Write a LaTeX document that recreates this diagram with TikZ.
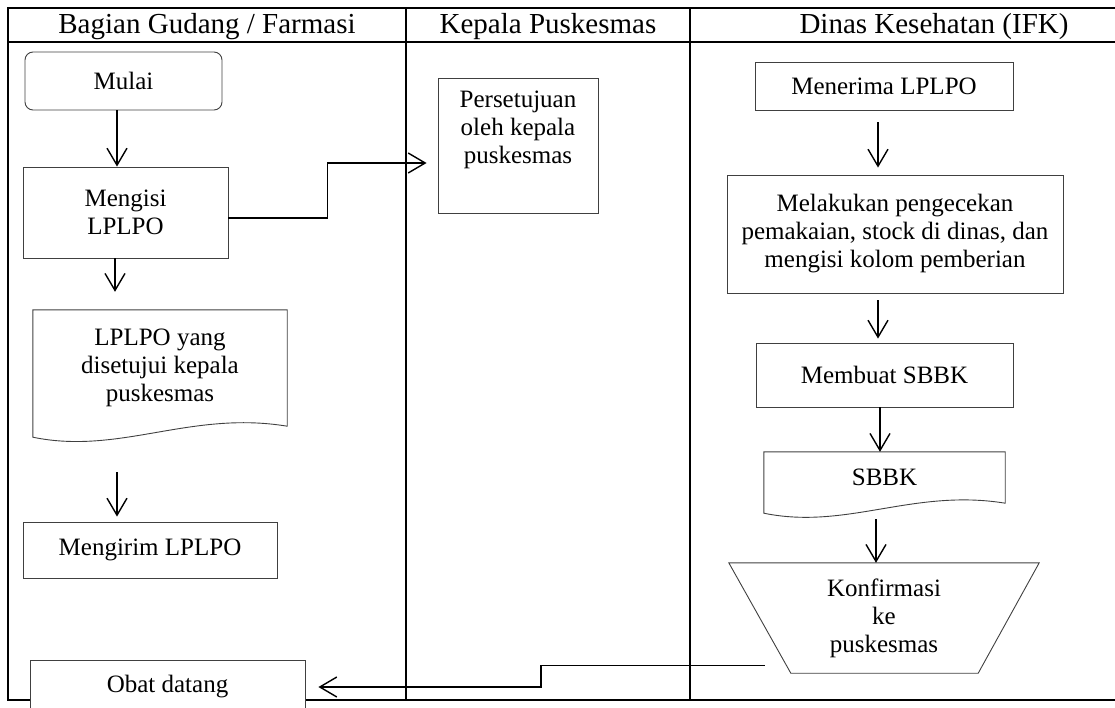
\documentclass[tikz,border=0pt]{standalone}
\usepackage{fontspec}
\setmainfont{Liberation Serif}
\usetikzlibrary{arrows.meta,calc}
\begin{document}
\begin{tikzpicture}[x=1pt,y=-1pt,
  every node/.style={font=\fontsize{25}{28}\selectfont, align=center, inner sep=0pt},
  boxline/.style={draw=black!75, line width=0.9pt},
  box/.style={boxline, rectangle},
  lane/.style={line width=2pt, black},
  conn/.style={line width=1.4pt, black, -{Straight Barb[length=17pt,width=20pt]}},
  head/.style={font=\fontsize{29}{33}\selectfont, anchor=base}
]
\useasboundingbox (0,0) rectangle (1115,708);
\clip (0,0) rectangle (1115,708);

% swimlane table
\draw[lane] (1115,8) -- (8,8) -- (8,700) -- (1115,700);
\draw[lane] (8,42.5) -- (1115,42.5);
\draw[lane] (406,8) -- (406,700);
\draw[lane] (690,8) -- (690,700);

\node[head] (h1) at (207,34) {Bagian Gudang / Farmasi};
\node[head] (h2) at (548,34) {Kepala Puskesmas};
\node[head] (h3) at (934,34) {Dinas Kesehatan (IFK)};

% Bagian Gudang / Farmasi
\node[box, rounded corners=8pt, minimum width=197, minimum height=58] (mulai) at (123.5,81) {Mulai};
\node[box, minimum width=205, minimum height=91] (isi) at (125.5,212.5) {Mengisi\\LPLPO};
\node[minimum width=254, minimum height=116] (doc) at (160,368) {LPLPO yang\\disetujui kepala\\puskesmas};
\draw[boxline] (doc.north west) -- (doc.north east) -- (doc.south east)
  .. controls ([xshift=-97,yshift=16]doc.south east) and ([xshift=87,yshift=-29]doc.south west)
  .. ([yshift=-11]doc.south west) -- cycle;
\node[box, minimum width=254, minimum height=56] (kirim) at (150,550) {Mengirim LPLPO};
\node[box, fill=white, minimum width=275, minimum height=54] (obat) at (167.5,687) {Obat datang};

% Kepala Puskesmas
\node[box, minimum width=160, minimum height=135] (setuju) at (518,145.5) {};
\node (setujutxt) at ([yshift=15.5]setuju.center) {Persetujuan\\oleh kepala\\puskesmas};

% Dinas Kesehatan (IFK)
\node[box, minimum width=258, minimum height=48] (terima) at (884,86) {Menerima LPLPO};
\node[box, minimum width=336, minimum height=118] (cek) at (895,234) {Melakukan pengecekan\\pemakaian, stock di dinas, dan\\mengisi kolom pemberian};
\node[box, minimum width=257, minimum height=64] (buat) at (884.5,375) {Membuat SBBK};
\node[minimum width=241, minimum height=51] (sbbk) at (884.5,477.5) {SBBK};
\draw[boxline] (sbbk.north west) -- (sbbk.north east) -- (sbbk.south east)
  .. controls ([xshift=-92,yshift=15]sbbk.south east) and ([xshift=83,yshift=-27]sbbk.south west)
  .. ([yshift=-10]sbbk.south west) -- cycle;
\node[minimum width=310, minimum height=110] (konf) at (884,618) {Konfirmasi\\ke\\puskesmas};
\draw[boxline] (konf.north west) -- (konf.north east) -- ([xshift=-61]konf.south east)
  -- ([xshift=62]konf.south west) -- cycle;
\coordinate (kstart) at ($(konf.north west)!0.93!([xshift=62]konf.south west)$);

% connectors
\draw[conn] ([xshift=-6.5]mulai.south) -- ([xshift=-8.5]isi.north);
\draw[conn, shorten >=18pt] ([xshift=-10.5]isi.south) -- ([xshift=-10.5]isi.south |- doc.north);
\draw[conn, shorten <=46pt, shorten >=5pt] ([xshift=-43]doc.south) -- ([xshift=-33]kirim.north);
\draw[conn, shorten >=11pt] ([yshift=-5.5]isi.east) -- ++(99,0) |- ([yshift=-17.5]setuju.west);

\draw[conn, shorten <=12pt, shorten >=7pt] ([xshift=-6]terima.south) -- ([xshift=-17]cek.north);
\draw[conn, shorten <=7pt, shorten >=4pt] ([xshift=-17]cek.south) -- ([xshift=-6.5]buat.north);
\draw[conn] ([xshift=-4.5]buat.south) -- ([xshift=-4.5]sbbk.north);
\draw[conn, shorten <=16pt] ([xshift=-8.5]sbbk.south) -- ([xshift=-8]konf.north);
\draw[conn, shorten <=21.5pt, shorten >=13pt] (kstart) -- ++(-245.5,0) |- (obat.east);
\end{tikzpicture}
\end{document}
